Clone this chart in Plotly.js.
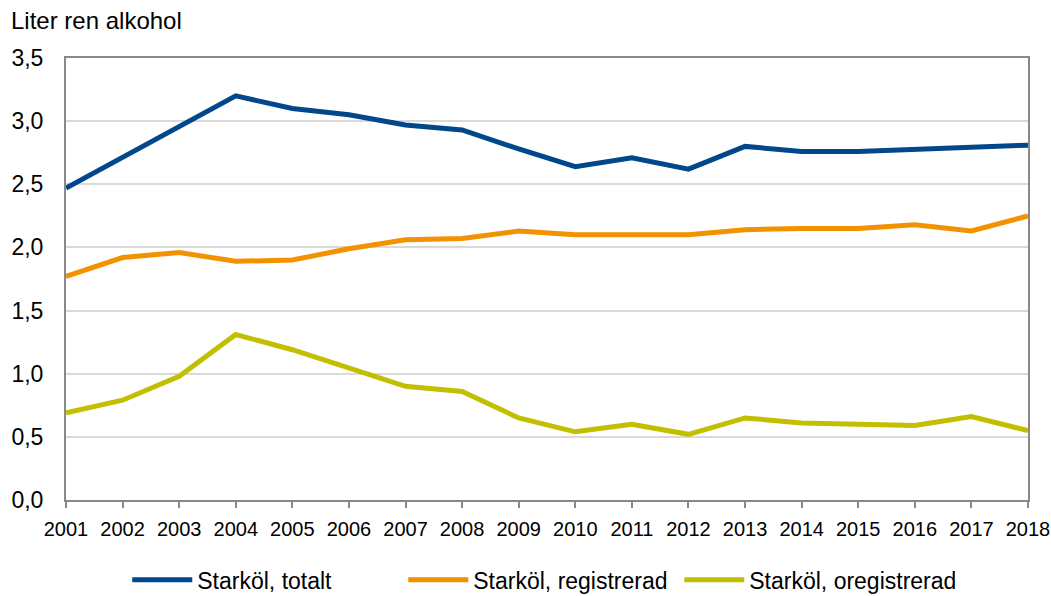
<!DOCTYPE html>
<html>
<head>
<meta charset="utf-8">
<script src="https://cdn.plot.ly/plotly-3.0.1.min.js"></script>
<style>html,body{margin:0;padding:0;background:#fff;}#chart{width:1051px;height:596px;}</style>
</head>
<body>
<div id="chart"></div>
<script>
const years = [2001,2002,2003,2004,2005,2006,2007,2008,2009,2010,2011,2012,2013,2014,2015,2016,2017,2018];
const totalt = [2.47,2.71,2.95,3.20,3.10,3.05,2.97,2.93,2.78,2.64,2.71,2.62,2.80,2.76,2.76,2.78,2.79,2.81];
const registrerad = [1.77,1.92,1.96,1.89,1.90,1.99,2.06,2.07,2.13,2.10,2.10,2.10,2.14,2.15,2.15,2.18,2.13,2.25];
const oregistrerad = [0.69,0.79,0.98,1.31,1.19,1.05,0.90,0.86,0.65,0.54,0.60,0.52,0.65,0.61,0.60,0.59,0.66,0.55];
const seriesNames = ["Starköl, totalt","Starköl, registrerad","Starköl, oregistrerad"];
const colors = ["#00478B","#F39200","#C2BF00"];
const yTicks = [0,0.5,1,1.5,2,2.5,3,3.5];

const font = "Liberation Sans, Arial, sans-serif";
const data = [totalt, registrerad, oregistrerad].map((v,i)=>({
  x: years, y: v, name: seriesNames[i], type: 'scatter', mode: 'lines',
  line: {color: colors[i], width: 5}
}));

const layout = {
  width: 1051, height: 596,
  margin: {l: 66, r: 23, t: 58, b: 96},
  paper_bgcolor: '#fff', plot_bgcolor: '#fff',
  font: {family: font, color: '#000', size: 23},
  separators: ', ',
  showlegend: true,
  legend: {orientation: 'h', x: 0.515, xanchor: 'center', xref: 'container',
    y: 0.027, yanchor: 'middle', yref: 'container', itemwidth: 60,
    entrywidth: 201, entrywidthmode: 'pixels',
    font: {family: font, size: 23, color: '#000'}, traceorder: 'normal'},
  xaxis: {
    range: [2001, 2018], tickvals: years, ticktext: years.map(String),
    showgrid: false, zeroline: false, automargin: false,
    showline: true, linecolor: '#898989', linewidth: 2, mirror: true,
    ticks: 'outside', ticklen: 6, tickcolor: '#898989', tickwidth: 2,
    ticklabelstandoff: 4,
    tickfont: {family: font, size: 20, color: '#000'}, tickangle: 0
  },
  yaxis: {
    range: [0, 3.5], tickvals: yTicks, tickformat: '.1f',
    showgrid: true, gridcolor: '#D9D9D9', gridwidth: 2,
    zeroline: false, automargin: false,
    showline: true, linecolor: '#898989', linewidth: 2, mirror: true,
    ticks: '', ticklabelstandoff: 16,
    tickfont: {family: font, size: 23, color: '#000'}
  },
  annotations: [{
    text: 'Liter ren alkohol', xref: 'paper', yref: 'paper', x: 0, y: 1,
    xshift: -57, yshift: 38, xanchor: 'left', yanchor: 'middle', showarrow: false,
    font: {family: font, size: 24, color: '#000'}
  }]
};

Plotly.newPlot('chart', data, layout, {displayModeBar: false, staticPlot: true});
</script>
</body>
</html>
